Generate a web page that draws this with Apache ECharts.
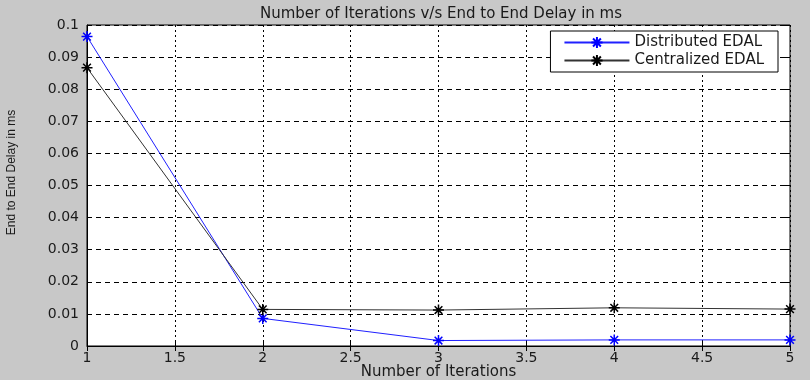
<!DOCTYPE html>
<html>
<head>
<meta charset="utf-8">
<script src="https://cdn.jsdelivr.net/npm/echarts@6/dist/echarts.min.js"></script>
<style>
html,body{margin:0;padding:0;background:#fff;}
#chart{width:810px;height:384px;}
</style>
</head>
<body>
<div id="chart"></div>
<script>
// data
var iterations = [1, 2, 3, 4, 5];
var distributed = [0.0964, 0.0086, 0.0017, 0.0019, 0.0019];
var centralized = [0.0867, 0.0114, 0.0112, 0.0119, 0.0115];
var xTicks = ['1', '1.5', '2', '2.5', '3', '3.5', '4', '4.5', '5'];

var star = 'path://M0,-5L0,5M-5,0L5,0M-3.5,-3.5L3.5,3.5M-3.5,3.5L3.5,-3.5';
var font = 'DejaVu Sans';

function pairs(ys) {
	return iterations.map(function (x, i) { return [x, ys[i]]; });
}

var myChart = echarts.init(document.getElementById('chart'));
myChart.setOption({
	backgroundColor: '#c8c8c8',
	animation: false,
	title: {
		text: 'Number of Iterations v/s End to End Delay in ms',
		left: 436, top: 2, textAlign: 'center',
		textStyle: {fontFamily: font, fontSize: 15, fontWeight: 'normal', color: '#1a1a1a'}
	},
	legend: {
		right: 32, top: 31,
		orient: 'vertical',
		backgroundColor: '#fff',
		borderColor: '#000', borderWidth: 1,
		borderRadius: 0,
		padding: [4, 14, 4, 13],
		itemGap: 3,
		itemWidth: 65, itemHeight: 14,
		textStyle: {fontFamily: font, fontSize: 15, color: '#1a1a1a'},
		data: ['Distributed EDAL', 'Centralized EDAL']
	},
	grid: {left: 87, right: 20, top: 25, bottom: 38, outerBoundsMode: 'none', containLabel: false,
		show: true, borderColor: '#000', borderWidth: 1, backgroundColor: '#fff'},
	xAxis: [{
		type: 'value', min: 1, max: 5, interval: 0.5,
		name: 'Number of Iterations', nameLocation: 'middle', nameGap: 19, nameMoveOverlap: false,
		nameTextStyle: {fontFamily: font, fontSize: 15, color: '#1a1a1a'},
		axisLine: {lineStyle: {color: '#000'}},
		axisTick: {inside: true, length: 5, lineStyle: {color: '#000'}},
		axisLabel: {fontFamily: font, fontSize: 14, color: '#1a1a1a', margin: 5,
			formatter: function (v) { return xTicks[Math.round((v - 1) * 2)]; }},
		splitLine: {lineStyle: {color: '#000', type: [2, 3], width: 1}}
	}, {
		type: 'value', min: 1, max: 5, interval: 0.5, position: 'top',
		axisLine: {show: false},
		axisTick: {inside: true, length: 5, lineStyle: {color: '#000'}},
		axisLabel: {show: false}, splitLine: {show: false}
	}],
	yAxis: [{
		type: 'value', min: 0, max: 0.1, interval: 0.01,
		name: 'End to End Delay in ms', nameLocation: 'middle', nameGap: 69, nameMoveOverlap: false,
		nameTextStyle: {fontFamily: 'Liberation Sans', fontSize: 12, color: '#1a1a1a', padding: [0, 0, 0, 26]},
		axisLine: {lineStyle: {color: '#000'}},
		axisTick: {inside: true, length: 5, lineStyle: {color: '#000'}},
		axisLabel: {fontFamily: font, fontSize: 14, color: '#1a1a1a', margin: 8,
			formatter: function (v) { return v === 0 ? '0' : (+v.toFixed(2)).toString(); }},
		splitLine: {lineStyle: {color: '#000', type: [5, 4], width: 1}}
	}, {
		type: 'value', min: 0, max: 0.1, interval: 0.01, position: 'right',
		axisLine: {show: false},
		axisTick: {inside: true, length: 5, lineStyle: {color: '#000'}},
		axisLabel: {show: false}, splitLine: {show: false}
	}],
	series: [{
		name: 'Distributed EDAL', type: 'line',
		data: pairs(distributed),
		symbol: star, symbolSize: 11, showAllSymbol: true,
		lineStyle: {color: '#2020ff', width: 1},
		itemStyle: {color: '#2020ff', borderColor: '#0000ff', borderWidth: 1.5}
	}, {
		name: 'Centralized EDAL', type: 'line',
		data: pairs(centralized),
		symbol: star, symbolSize: 11, showAllSymbol: true,
		lineStyle: {color: '#333', width: 1},
		itemStyle: {color: '#000', borderColor: '#000', borderWidth: 1.5}
	}],
	graphic: [{
		type: 'rect', left: 0, top: 380, shape: {width: 810, height: 4},
		style: {fill: '#fff'}, z: 100
	}]
});
</script>
</body>
</html>
